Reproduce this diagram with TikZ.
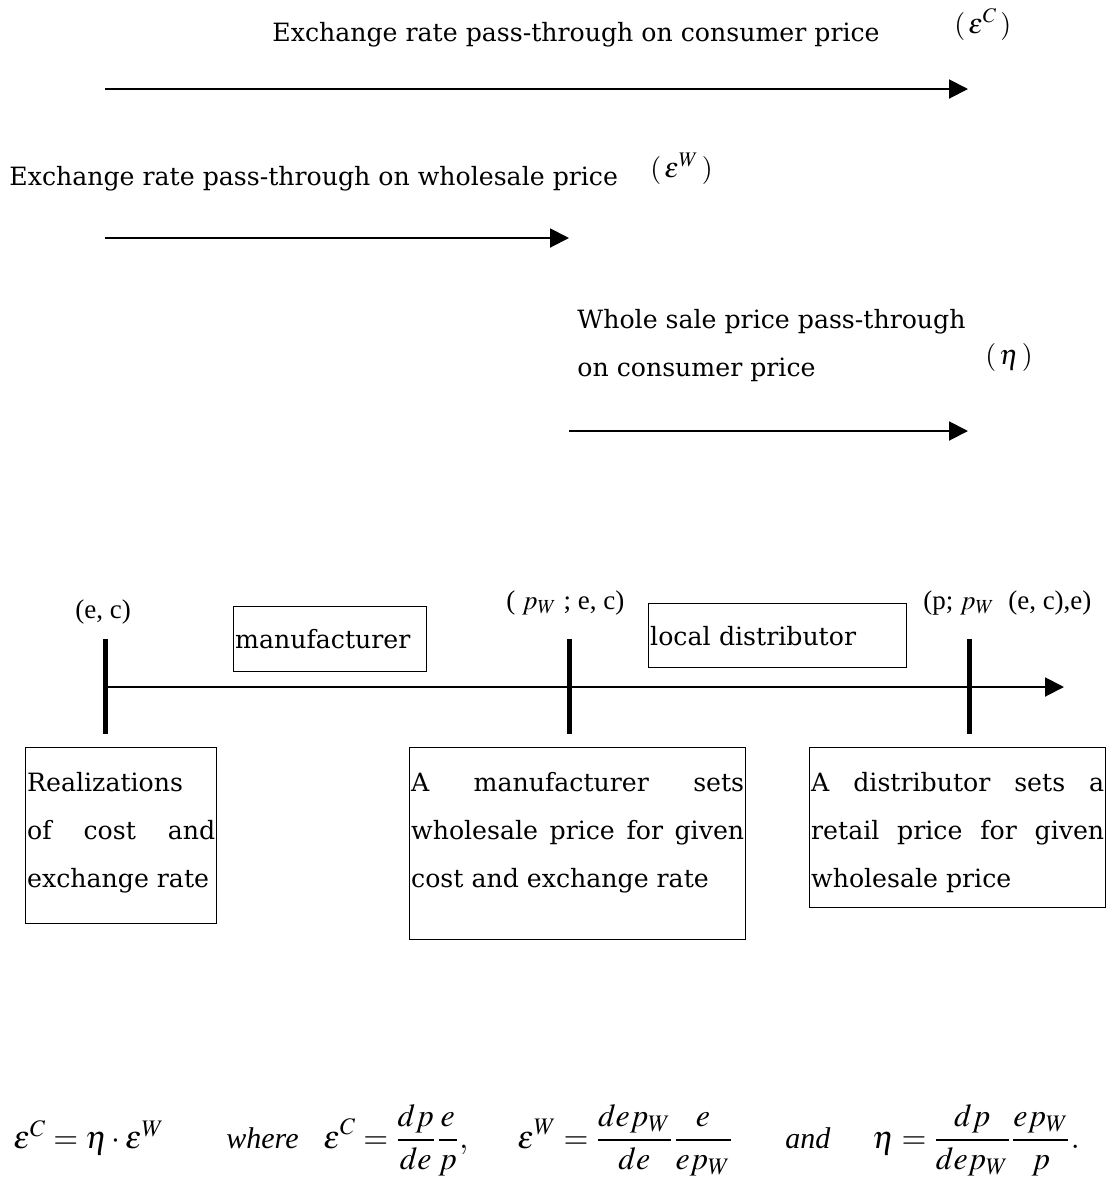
\documentclass[tikz,border=0pt]{standalone}
\usepackage{amsmath}
\usepackage{mathptmx}
\usepackage[no-math]{fontspec}
\setmainfont{DejaVu Serif}
\newfontfamily\timesfont{Liberation Serif}
\usetikzlibrary{arrows.meta, positioning, calc}

\begin{document}
\begin{tikzpicture}[x=0.5pt, y=-0.5pt,
  txt/.style={anchor=base west, inner sep=0pt, align=left,
              font=\fontsize{12.6}{24}\selectfont},
  sym/.style={anchor=base west, inner sep=0pt, font=\fontsize{14}{16}\selectfont},
  lbl/.style={anchor=base west, inner sep=0pt, font=\timesfont\fontsize{13.5}{16}\selectfont},
  eq/.style={anchor=base west, inner sep=0pt, font=\timesfont\fontsize{16}{20}\selectfont},
  word/.style={anchor=base west, inner sep=0pt, font=\timesfont\itshape\fontsize{15}{20}\selectfont},
  actor/.style={draw, line width=0.7pt, anchor=north west, inner xsep=0.75pt,
                inner ysep=0pt, align=left, font=\fontsize{12.6}{24}\selectfont},
  stage/.style={draw, line width=0.7pt, anchor=north west, inner xsep=0.75pt,
                inner ysep=0pt, font=\fontsize{12.6}{24}\selectfont},
  arr/.style={-{Triangle[length=9.5pt, width=9.5pt]}, line width=1pt},
  milestone/.style={line width=2.5pt}]
  \useasboundingbox (0,0) rectangle (1120,1191);

  \node[txt] (ptc) at (272,41) {Exchange rate pass-through on consumer price};
  \node[sym] (ptcsym) at (954,33) {$(\,\varepsilon^{C}\,)$};
  \coordinate (ptcs) at (105,89);
  \coordinate (ptce) at (968,89);
  \draw[arr] (ptcs) -- (ptce);

  \node[txt] (ptw) at (9,185) {Exchange rate pass-through on wholesale price};
  \node[sym] (ptwsym) at (650,177) {$(\,\varepsilon^{W}\,)$};
  \coordinate (ptws) at (105,238);
  \coordinate (ptwe) at (569,238);
  \draw[arr] (ptws) -- (ptwe);

  \node[txt] (wtc) at (577,376) {Whole sale price pass-through\\on consumer price};
  \node[sym] (wtcsym) at (985,364) {$(\,\eta\,)$};
  \coordinate (wtcs) at (569,431);
  \coordinate (wtce) at (968,431);
  \draw[arr] (wtcs) -- (wtce);

  \coordinate (lines) at (105,687);
  \coordinate (linee) at (1064,687);
  \draw[arr] (lines) -- (linee);
  \coordinate (m1a) at (105,639);
  \coordinate (m1b) at (105,734);
  \coordinate (m2a) at (569,639);
  \coordinate (m2b) at (569,734);
  \coordinate (m3a) at (969,639);
  \coordinate (m3b) at (969,734);
  \draw[milestone] (m1a) -- (m1b);
  \draw[milestone] (m2a) -- (m2b);
  \draw[milestone] (m3a) -- (m3b);

  \node[lbl] (ec) at (75,618) {(e, c)};
  \node[lbl] (pwec) at (506,609) {( $p_{W}$ ; e, c)};
  \node[lbl] (ppw) at (923,609) {(p; $p_{W}$\ \ (e, c),e)};

  \node[actor, text width=95pt, minimum height=32.5pt] (manu) at (233,606) {manufacturer};
  \node[actor, text width=127.5pt, minimum height=32pt] (dist) at (648,603) {local distributor};

  \node[stage] (real) at (25,747)
    {\parbox[c][88pt][t]{94pt}{\rule{0pt}{22pt}Realizations\\
     of\hfill cost\hfill and\\exchange rate}};
  \node[stage] (setw) at (409,747)
    {\parbox[c][96pt][t]{166.5pt}{\rule{0pt}{22pt}A\hfill manufacturer\hfill sets\\
     wholesale\hfill price\hfill for\hfill given\\cost and exchange rate}};
  \node[stage] (setr) at (809,747)
    {\parbox[c][80pt][t]{146.5pt}{\rule{0pt}{22pt}A\hfill distributor\hfill sets\hfill a\\
     retail\hfill price\hfill for\hfill given\\wholesale price}};

  \node[eq] (rel) at (13,1148) {$\varepsilon^{C}=\eta\cdot\varepsilon^{W}$};
  \node[word] (where) at (226,1148) {where};
  \node[eq] (defc) at (323,1148) {$\displaystyle\varepsilon^{C}=\frac{dp}{de}\frac{e}{p},$};
  \node[eq] (defw) at (517,1148) {$\displaystyle\varepsilon^{W}=\frac{dep_{W}}{de}\frac{e}{ep_{W}}$};
  \node[word] (and) at (785,1148) {and};
  \node[eq] (defeta) at (872,1148) {$\displaystyle\eta=\frac{dp}{dep_{W}}\frac{ep_{W}}{p}.$};
\end{tikzpicture}
\end{document}
